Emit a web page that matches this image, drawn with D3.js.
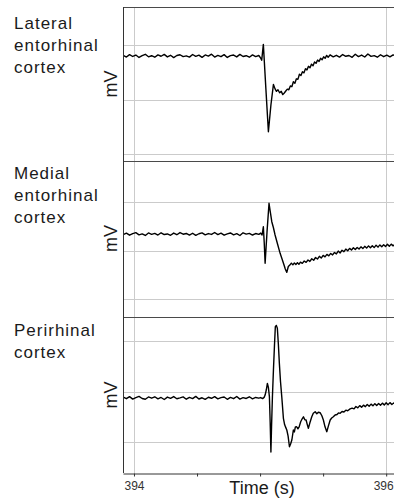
<!DOCTYPE html>
<html>
<head>
<meta charset="utf-8">
<script src="https://cdn.jsdelivr.net/npm/d3@7"></script>
<style>
  body { margin: 0; background: #fff; }
  svg { display: block; font-family: "Liberation Sans", Arial, sans-serif; }
</style>
</head>
<body>
<svg width="394" height="499"></svg>
<script>
// Region names, one entry per panel (split into lines)
var panelNames = [
    ["Lateral", "entorhinal", "cortex"],
    ["Medial", "entorhinal", "cortex"],
    ["Perirhinal", "cortex"]
];

// Time axis ticks (s); only the ends are labelled
var timeTicks = [394, 394.5, 395, 395.5, 396];
var labelledTicks = [394, 396];

// Horizontal grid values in every panel (mV)
var gridValues = [-0.5, 0, 0.5];

// Visible mV range of each panel
var panelDomains = [[-0.564, 0.849], [-0.675, 0.923], [-0.807, 0.738]];

// Traces: [time (s), potential (mV)]
var lateralTrace = [
    [393.915,0.405],[393.94,0.39],[393.965,0.412],[393.99,0.395],[394.015,0.408],[394.04,0.386],[394.065,0.403],[394.09,0.415],
    [394.115,0.392],[394.14,0.402],[394.165,0.388],[394.19,0.41],[394.215,0.397],[394.24,0.414],[394.265,0.391],[394.29,0.406],
    [394.315,0.385],[394.34,0.404],[394.365,0.411],[394.39,0.394],[394.415,0.401],[394.44,0.389],[394.465,0.413],[394.49,0.396],
    [394.515,0.407],[394.54,0.387],[394.565,0.409],[394.59,0.398],[394.615,0.416],[394.64,0.39],[394.665,0.405],[394.69,0.393],
    [394.715,0.412],[394.74,0.386],[394.765,0.403],[394.79,0.408],[394.815,0.391],[394.84,0.414],[394.865,0.395],[394.89,0.402],
    [394.915,0.388],[394.94,0.41],[394.965,0.394],[394.99,0.404],
    [395.005,0.38],[395.013,0.36],[395.026,0.506],[395.046,0.10],[395.066,-0.295],[395.086,-0.05],[395.106,0.139],[395.118,0.10],
    [395.13,0.075],[395.142,0.09],[395.155,0.062],[395.168,0.075],[395.18,0.045],[395.192,0.06],[395.204,0.078],[395.216,0.095],
    [395.228,0.09],[395.24,0.125],[395.252,0.118],[395.264,0.163],[395.276,0.15],[395.288,0.19],[395.3,0.185],[395.312,0.232],
    [395.324,0.22],[395.336,0.255],[395.348,0.245],[395.36,0.283],[395.372,0.272],[395.384,0.305],[395.396,0.292],[395.408,0.325],
    [395.42,0.31],[395.432,0.345],[395.444,0.332],[395.456,0.362],[395.468,0.35],[395.48,0.378],[395.492,0.365],[395.504,0.392],
    [395.516,0.378],[395.528,0.405],[395.54,0.388],
    [395.555,0.41],[395.58,0.392],[395.605,0.406],[395.63,0.389],[395.655,0.413],[395.68,0.397],[395.705,0.404],[395.73,0.387],
    [395.755,0.415],[395.78,0.394],[395.805,0.408],[395.83,0.39],[395.855,0.418],[395.88,0.396],[395.905,0.403],[395.93,0.388],
    [395.955,0.411],[395.98,0.393],[396.005,0.407],[396.03,0.391],[396.055,0.409],[396.08,0.397]
];

var medialTrace = [
    [393.915,0.164],[393.94,0.179],[393.965,0.158],[393.99,0.174],[394.015,0.184],[394.04,0.162],[394.065,0.172],[394.09,0.155],
    [394.115,0.181],[394.14,0.167],[394.165,0.177],[394.19,0.16],[394.215,0.183],[394.24,0.165],[394.265,0.171],[394.29,0.157],
    [394.315,0.18],[394.34,0.163],[394.365,0.185],[394.39,0.168],[394.415,0.176],[394.44,0.159],[394.465,0.178],[394.49,0.156],
    [394.515,0.173],[394.54,0.182],[394.565,0.161],[394.59,0.175],[394.615,0.166],[394.64,0.186],[394.665,0.164],[394.69,0.179],
    [394.715,0.158],[394.74,0.172],[394.765,0.181],[394.79,0.162],[394.815,0.174],[394.84,0.155],[394.865,0.183],[394.89,0.169],
    [394.915,0.177],[394.94,0.16],[394.965,0.175],[394.99,0.167],
    [395.005,0.18],[395.016,0.16],[395.026,0.245],[395.033,0.08],[395.04,-0.132],[395.055,0.19],[395.071,0.487],[395.082,0.39],
    [395.093,0.297],[395.106,0.235],[395.119,0.16],[395.139,0.065],[395.159,-0.029],[395.175,-0.09],[395.19,-0.15],[395.2,-0.19],
    [395.212,-0.225],[395.224,-0.165],[395.236,-0.15],[395.248,-0.13],[395.26,-0.148],[395.272,-0.128],[395.284,-0.145],[395.296,-0.125],
    [395.308,-0.142],[395.32,-0.12],[395.335,-0.132],[395.35,-0.108],[395.365,-0.122],[395.38,-0.098],[395.395,-0.112],[395.41,-0.085],
    [395.425,-0.1],[395.44,-0.072],[395.455,-0.088],[395.47,-0.06],[395.485,-0.078],[395.5,-0.05],[395.515,-0.065],[395.53,-0.04],
    [395.545,-0.055],[395.56,-0.03],[395.575,-0.045],[395.59,-0.02],[395.605,-0.035],[395.62,-0.005],[395.635,-0.025],[395.65,0.003],
    [395.665,-0.012],[395.68,0.015],[395.695,-0.002],[395.71,0.022],[395.725,0.005],[395.74,0.028],[395.755,0.01],[395.77,0.032],
    [395.785,0.015],[395.8,0.038],[395.815,0.02],[395.83,0.043],[395.845,0.025],[395.86,0.048],[395.875,0.028],[395.89,0.05],
    [395.905,0.03],[395.92,0.055],[395.935,0.035],[395.95,0.058],[395.965,0.04],[395.98,0.06],[395.995,0.042],[396.01,0.065],
    [396.025,0.045],[396.04,0.066],[396.055,0.048],[396.07,0.062]
];

var perirhinalTrace = [
    [393.915,-0.056],[393.94,-0.071],[393.965,-0.051],[393.99,-0.075],[394.015,-0.061],[394.04,-0.049],[394.065,-0.069],[394.09,-0.077],
    [394.115,-0.054],[394.14,-0.066],[394.165,-0.052],[394.19,-0.073],[394.215,-0.059],[394.24,-0.079],[394.265,-0.055],[394.29,-0.068],
    [394.315,-0.05],[394.34,-0.072],[394.365,-0.063],[394.39,-0.053],[394.415,-0.076],[394.44,-0.058],[394.465,-0.07],[394.49,-0.048],
    [394.515,-0.074],[394.54,-0.062],[394.565,-0.078],[394.59,-0.057],[394.615,-0.067],[394.64,-0.051],[394.665,-0.073],[394.69,-0.06],
    [394.715,-0.054],[394.74,-0.077],[394.765,-0.058],[394.79,-0.071],[394.815,-0.049],[394.84,-0.075],[394.865,-0.061],[394.89,-0.069],
    [394.915,-0.052],[394.94,-0.072],[394.965,-0.059],[394.99,-0.066],
    [395.005,-0.06],[395.02,-0.07],[395.032,-0.058],[395.04,-0.035],[395.05,0.02],[395.058,0.081],[395.066,0.04],[395.074,-0.051],
    [395.08,-0.3],[395.086,-0.6],[395.091,-0.35],[395.098,-0.05],[395.106,0.213],[395.114,0.45],[395.121,0.642],[395.129,0.655],
    [395.137,0.626],[395.145,0.47],[395.153,0.279],[395.162,0.10],[395.172,-0.051],[395.185,-0.265],[395.195,-0.33],[395.205,-0.36],
    [395.212,-0.381],[395.222,-0.44],[395.233,-0.547],[395.242,-0.52],[395.252,-0.48],[395.264,-0.381],[395.272,-0.4],[395.28,-0.35],
    [395.29,-0.349],[395.3,-0.37],[395.31,-0.35],[395.322,-0.3],[395.334,-0.27],[395.344,-0.25],[395.355,-0.28],[395.365,-0.282],
    [395.375,-0.33],[395.383,-0.364],[395.395,-0.31],[395.41,-0.25],[395.422,-0.215],[395.437,-0.2],[395.45,-0.22],[395.462,-0.205],
    [395.476,-0.21],[395.49,-0.24],[395.502,-0.282],[395.515,-0.35],[395.529,-0.398],[395.542,-0.34],[395.556,-0.282],[395.568,-0.262],
    [395.581,-0.25],[395.595,-0.232],[395.61,-0.228],[395.622,-0.212],[395.635,-0.216],[395.65,-0.198],[395.665,-0.203],[395.68,-0.185],
    [395.695,-0.19],[395.714,-0.172],[395.73,-0.165],[395.745,-0.172],[395.76,-0.148],[395.775,-0.162],[395.79,-0.14],[395.805,-0.155],
    [395.82,-0.135],[395.835,-0.15],[395.85,-0.128],[395.865,-0.145],[395.88,-0.125],[395.895,-0.142],[395.91,-0.12],[395.925,-0.138],
    [395.94,-0.118],[395.955,-0.135],[395.97,-0.115],[395.985,-0.133],[396.0,-0.112],[396.015,-0.13],[396.03,-0.11],[396.045,-0.128],
    [396.06,-0.113],[396.075,-0.126]
];

var traces = [lateralTrace, medialTrace, perirhinalTrace];

// SVG settings
var svg = d3.select("svg"),
    left = 123,
    right = 395,
    panelTops = [7, 161, 317],
    panelBottoms = [161, 316, 473];

var xScale = d3.scaleLinear().domain([393.913, 396.07]).range([left, right]);

function drawChart() {
    svg.selectAll("*").remove();

    // vertical grid at labelled ticks
    svg.append("g").selectAll("line")
        .data(labelledTicks)
        .enter().append("line")
        .attr("x1", function(d) { return Math.round(xScale(d)) + 0.5; })
        .attr("x2", function(d) { return Math.round(xScale(d)) + 0.5; })
        .attr("y1", panelTops[0])
        .attr("y2", panelBottoms[2])
        .attr("stroke", "#cbcbcb");

    var line = d3.line();

    for (var p = 0; p < 3; p++) {
        var yScale = d3.scaleLinear().domain(panelDomains[p]).range([panelBottoms[p], panelTops[p]]);
        var g = svg.append("g");

        // horizontal grid
        g.selectAll(".grid")
            .data(gridValues)
            .enter().append("line")
            .attr("x1", left)
            .attr("x2", right)
            .attr("y1", function(d) { return Math.round(yScale(d)) + 0.5; })
            .attr("y2", function(d) { return Math.round(yScale(d)) + 0.5; })
            .attr("stroke", "#cbcbcb");

        // panel top border
        g.append("line")
            .attr("x1", left).attr("x2", right)
            .attr("y1", panelTops[p] + 0.5).attr("y2", panelTops[p] + 0.5)
            .attr("stroke", "#4a4a4a");

        // trace
        line.x(function(d) { return xScale(d[0]); })
            .y(function(d) { return yScale(d[1]); });
        g.append("path")
            .datum(traces[p])
            .attr("d", line)
            .attr("fill", "none")
            .attr("stroke", "#000")
            .attr("stroke-width", 1.4)
            .attr("stroke-linejoin", "round");

        // region label
        g.append("text")
            .attr("x", 14)
            .attr("y", [29, 179, 336][p])
            .attr("fill", "#1a1a1a")
            .style("font-size", "17px")
            .style("letter-spacing", "1px")
            .selectAll("tspan")
            .data(panelNames[p])
            .enter().append("tspan")
            .attr("x", 14)
            .attr("dy", function(d, i) { return i === 0 ? 0 : 22; })
            .text(function(d) { return d; });

        // y label
        var cy = (panelTops[p] + panelBottoms[p]) / 2;
        g.append("text")
            .attr("transform", "translate(117," + cy + ") rotate(-90)")
            .attr("text-anchor", "middle")
            .attr("fill", "#1a1a1a")
            .style("font-size", "18px")
            .text("mV");
    }

    // left axis line
    svg.append("line")
        .attr("x1", left + 0.5).attr("x2", left + 0.5)
        .attr("y1", panelTops[0]).attr("y2", panelBottoms[2])
        .attr("stroke", "#333");

    // bottom axis
    var xAxis = svg.append("g")
        .attr("transform", "translate(0," + (panelBottoms[2] + 0.5) + ")")
        .call(d3.axisBottom(xScale)
            .tickValues(timeTicks)
            .tickSizeInner(3)
            .tickSizeOuter(0)
            .tickPadding(5)
            .tickFormat(function(d) { return labelledTicks.indexOf(d) >= 0 ? d : ""; }));
    xAxis.select(".domain").attr("stroke", "#333");
    xAxis.selectAll(".tick line").attr("stroke", "#333");
    xAxis.selectAll(".tick text")
        .attr("fill", "#333")
        .style("font-size", "12px")
        .style("font-family", "'Liberation Sans', Arial, sans-serif");
    xAxis.selectAll(".tick text")
        .filter(function(d) { return d === 396; })
        .attr("text-anchor", "end")
        .attr("dx", "7");

    svg.append("text")
        .attr("x", 262)
        .attr("y", 494)
        .attr("text-anchor", "middle")
        .attr("fill", "#1a1a1a")
        .style("font-size", "18px")
        .text("Time (s)");
}

drawChart();
</script>
</body>
</html>
